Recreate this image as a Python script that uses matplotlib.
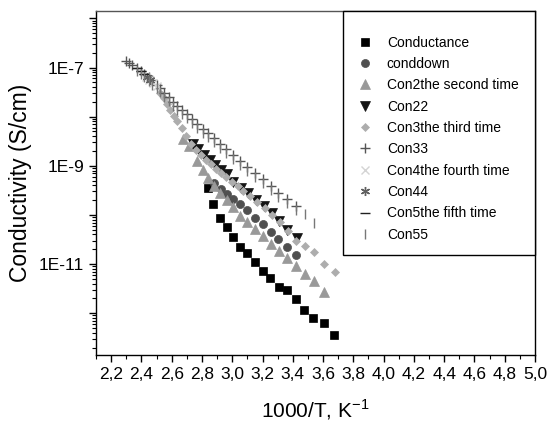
import numpy as np
import matplotlib
matplotlib.use("Agg")
import matplotlib.pyplot as plt
from matplotlib.ticker import MultipleLocator, FuncFormatter, LogLocator, NullFormatter

plt.rcParams['font.family'] = ['Liberation Sans', 'DejaVu Sans']

# x = 1000/T (K^-1), values read as log10(conductivity, S/cm)
x_cond = [2.842, 2.875, 2.919, 2.963, 3.003, 3.051, 3.099, 3.150, 3.201, 3.249,
          3.307, 3.360, 3.419, 3.476, 3.535, 3.606, 3.672]
lg_cond = [-9.445, -9.770, -10.055, -10.238, -10.441, -10.644, -10.780, -10.949, -11.140, -11.274,
           -11.465, -11.526, -11.715, -11.933, -12.087, -12.203, -12.447]

x_down = [2.879, 2.924, 2.965, 3.007, 3.051, 3.100, 3.150, 3.201, 3.254, 3.305, 3.364, 3.421]
lg_down = [-9.343, -9.480, -9.581, -9.683, -9.785, -9.906, -10.055, -10.191, -10.348, -10.486,
           -10.644, -10.811]

x_con2 = [2.675, 2.714, 2.767, 2.810, 2.843, 2.879, 2.919, 2.963, 3.005, 3.051, 3.099, 3.150,
          3.201, 3.254, 3.307, 3.364, 3.421, 3.480, 3.542, 3.609]
lg_con2 = [-8.463, -8.606, -8.905, -9.087, -9.256, -9.419, -9.547, -9.703, -9.846, -10.022,
           -10.144, -10.293, -10.429, -10.598, -10.740, -10.882, -11.039, -11.207, -11.339, -11.573]

x_con22 = [2.741, 2.776, 2.813, 2.853, 2.889, 2.926, 2.965, 3.007, 3.056, 3.106, 3.157, 3.210,
           3.261, 3.311, 3.364, 3.426]
lg_con22 = [-8.565, -8.667, -8.783, -8.884, -8.992, -9.083, -9.175, -9.331, -9.445, -9.561,
            -9.693, -9.819, -9.967, -10.124, -10.313, -10.461]

x_con3 = [2.523, 2.546, 2.569, 2.592, 2.615, 2.638, 2.665, 2.694, 2.727, 2.760, 2.794, 2.827,
          2.860, 2.893, 2.926, 2.962, 2.998, 3.035, 3.074, 3.117, 3.163, 3.216, 3.262, 3.315,
          3.368, 3.421, 3.480, 3.543, 3.609, 3.679]
lg_con3 = [-7.528, -7.630, -7.752, -7.874, -7.986, -8.098, -8.240, -8.402, -8.565, -8.687,
           -8.789, -8.890, -8.972, -9.063, -9.144, -9.236, -9.327, -9.419, -9.510, -9.622,
           -9.744, -9.866, -10.008, -10.150, -10.333, -10.526, -10.638, -10.760, -11.004, -11.167]

x_con33 = [2.295, 2.318, 2.341, 2.368, 2.394, 2.420, 2.447, 2.473, 2.500, 2.526, 2.552, 2.579,
           2.609, 2.638, 2.671, 2.704, 2.737, 2.770, 2.807, 2.843, 2.879, 2.919, 2.962, 3.008,
           3.051, 3.097, 3.150, 3.201, 3.253, 3.305, 3.362, 3.421]
lg_con33 = [-6.872, -6.904, -6.949, -7.000, -7.061, -7.122, -7.193, -7.264, -7.346, -7.427,
            -7.518, -7.610, -7.701, -7.783, -7.864, -7.955, -8.057, -8.159, -8.250, -8.341,
            -8.443, -8.555, -8.667, -8.789, -8.911, -9.022, -9.144, -9.276, -9.409, -9.551,
            -9.683, -9.815]

x_con4 = [2.430, 2.453, 2.476, 2.500]
lg_con4 = [-7.203, -7.254, -7.305, -7.376]

x_con44 = [2.437, 2.457]
lg_con44 = [-7.183, -7.244]

x_con5 = [2.374, 2.397, 2.420]
lg_con5 = [-7.010, -7.071, -7.132]

x_con55 = [2.368, 2.394, 2.420, 2.447, 2.473, 2.500, 2.526, 2.552, 2.579, 2.609, 2.638, 2.671,
           2.704, 2.737, 2.770, 2.807, 2.843, 2.879, 2.919, 2.962, 3.008, 3.051, 3.097, 3.150,
           3.201, 3.253, 3.305, 3.362, 3.421, 3.480, 3.542]
lg_con55 = [-7.081, -7.142, -7.203, -7.274, -7.346, -7.427, -7.508, -7.600, -7.691, -7.783,
            -7.864, -7.945, -8.037, -8.138, -8.240, -8.331, -8.423, -8.524, -8.636, -8.748,
            -8.870, -8.992, -9.104, -9.226, -9.358, -9.490, -9.632, -9.764, -9.896, -9.988,
            -10.156]

series = [
    ("Conductance", x_cond, lg_cond, dict(marker='s', color='#000000', ms=5.2)),
    ("conddown", x_down, lg_down, dict(marker='o', color='#505050', ms=5.8)),
    ("Con2the second time", x_con2, lg_con2, dict(marker='^', color='#999999', ms=6.6)),
    ("Con22", x_con22, lg_con22, dict(marker='v', color='#141414', ms=6.6)),
    ("Con3the third time", x_con3, lg_con3, dict(marker='D', color='#adadad', ms=4.3)),
    ("Con33", x_con33, lg_con33, dict(marker='+', color='#555555', ms=6.5, mew=1.0)),
    ("Con4the fourth time", x_con4, lg_con4, dict(marker='x', color='#d4d4d4', ms=6, mew=1.0)),
    ("Con44", x_con44, lg_con44, dict(marker=(6, 2, 0), color='#606060', ms=6.5, mew=1.0)),
    ("Con5the fifth time", x_con5, lg_con5, dict(marker='_', color='#202020', ms=6.5, mew=1.0)),
    ("Con55", x_con55, lg_con55, dict(marker='|', color='#777777', ms=7, mew=1.0)),
]

fig = plt.figure(figsize=(5.48, 4.25), dpi=100)
ax = fig.add_axes([96 / 548, 1 - 355 / 425, 439 / 548, 344 / 425])

for label, xs, lgs, st in series:
    ax.plot(xs, np.power(10.0, lgs), linestyle='none', label=label,
            marker=st['marker'], ms=st['ms'], color=st['color'],
            mec=st['color'], mfc=st['color'], mew=st.get('mew', 0.5))

ax.set_yscale('log')
ax.set_xlim(2.1, 5.0)
ax.set_ylim(10 ** -12.85, 10 ** -5.85)

ax.xaxis.set_major_locator(MultipleLocator(0.2))
ax.xaxis.set_minor_locator(MultipleLocator(0.1))
ax.xaxis.set_major_formatter(FuncFormatter(lambda v, p: ('%.1f' % v).replace('.', ',')))

ax.yaxis.set_major_locator(LogLocator(base=10, numticks=20))
ax.yaxis.set_minor_locator(LogLocator(base=10, subs=np.arange(2, 10), numticks=20))
ax.yaxis.set_minor_formatter(NullFormatter())


def ylab(v, p):
    e = int(round(np.log10(v)))
    return '1E%d' % e if e in (-7, -9, -11) else ''


ax.yaxis.set_major_formatter(FuncFormatter(ylab))

ax.tick_params(axis='both', which='major', direction='out', length=5, width=1, labelsize=12.5)
ax.tick_params(axis='both', which='minor', direction='out', length=3, width=0.8)
ax.tick_params(top=False, right=False, which='both')
for s in ax.spines.values():
    s.set_linewidth(1.0)
ax.spines['top'].set_color('#555555')

ax.set_xlabel(r'1000/T, K$^{\mathregular{-1}}$', fontsize=15, labelpad=11)
ax.set_ylabel('Conductivity (S/cm)', fontsize=16.5, labelpad=5)

leg = ax.legend(loc='upper right', bbox_to_anchor=(247 / 439, 0, 192 / 439, 1), mode='expand',
                borderaxespad=0, fontsize=10, frameon=True, fancybox=False, framealpha=1,
                edgecolor='black', handlelength=1.2, handletextpad=1.0, labelspacing=0.53,
                borderpad=0.95, title=' ', title_fontsize=2)
leg.get_frame().set_linewidth(1.0)

fig.savefig('out.png', dpi=100)
